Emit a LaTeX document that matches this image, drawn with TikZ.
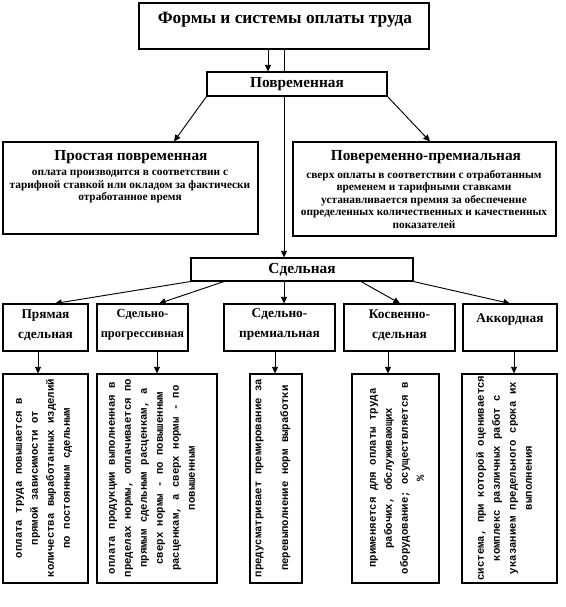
\documentclass[tikz,border=0pt]{standalone}
\usepackage{fontspec}
\setmainfont{Liberation Serif}
\newfontfamily\monofont{Liberation Mono}
\usetikzlibrary{arrows.meta,fit}
\begin{document}
\begin{tikzpicture}[x=0.75pt,y=-0.75pt,
  box/.style={draw, line width=0.8pt, inner sep=0pt, fill=white},
  arr/.style={-{Triangle[length=5pt,width=4.5pt]}, line width=0.7pt},
  ln/.style={line width=0.7pt},
  ttl/.style={font=\fontsize{13}{15}\selectfont\bfseries, inner sep=0pt},
  hd/.style={font=\fontsize{11.5}{14}\selectfont\bfseries, align=center, inner sep=0pt},
  sub/.style={font=\fontsize{10}{15}\selectfont\bfseries, align=center, inner sep=0pt},
  body/.style={font=\fontsize{8.5}{9.4}\selectfont\bfseries, align=center, inner sep=0pt},
  vt/.style={rotate=90, align=center, inner sep=0pt, font=\monofont\fontsize{8}{12}\selectfont\bfseries}
]
\useasboundingbox (0,0) rectangle (566,607);
% helper coordinates
\coordinate (v1) at (268,0);
\coordinate (v2) at (284,0);
\coordinate (t1) at (174,0);
\coordinate (t2) at (430,0);
\coordinate (p2) at (224,0);
\coordinate (p4) at (361,0);
\coordinate (s1) at (55,0);
\coordinate (s2) at (159,0);
\coordinate (s4) at (400,0);
\coordinate (s5) at (510,0);
\coordinate (a1) at (38,0);
\coordinate (a2) at (157,0);
\coordinate (a3) at (275,0);
\coordinate (a4) at (388,0);
\coordinate (a5) at (514,0);
% boxes
\node[box, fit={(139,3)(429,49)}] (top) {};
\node[ttl] (toptxt) at (285,20) {Формы и системы оплаты труда};
\node[box, fit={(207,72)(387,96)}] (time) {};
\node[hd] (timetxt) at (297,84) {Повременная};
\node[box, fit={(3,142)(258,234)}] (simple) {};
\node[hd] (simplehd) at (131,157) {Простая повременная};
\node[body, anchor=north] (simplebody) at (130,170) {оплата производится в соответствии с\\ тарифной ставкой или окладом за фактически\\ отработанное время};
\node[box, fit={(293,142)(556,236)}] (prem) {};
\node[hd] (premhd) at (426,157) {Повеременно-премиальная};
\node[body, anchor=north] (prembody) at (424,170) {сверх оплаты в соответствии с отработанным\\ временем и тарифными ставками\\ устанавливается премия за обеспечение\\ определенных количественных и качественных\\ показателей};
\node[box, fit={(191,258)(413,281)}] (piece) {};
\node[hd] (piecetxt) at (302,270) {Сдельная};
% level 3
\node[box, fit={(3,304)(88,351)}] (b1) {};
\node[box, fit={(97,304)(188,351)}] (b2) {};
\node[box, fit={(224,304)(335,351)}] (b3) {};
\node[box, fit={(344,304)(455,351)}] (b4) {};
\node[box, fit={(463,304)(557,351)}] (b5) {};
\node[sub] (b1t) at (45.5,325) {Прямая\\ сдельная};
\node[sub, font=\fontsize{9.3}{15}\selectfont\bfseries] (b2t) at (142.5,325) {Сдельно-\\ прогрессивная};
\node[sub] (b3t) at (279.5,325) {Сдельно-\\ премиальная};
\node[sub] (b4t) at (399.5,325) {Косвенно-\\ сдельная};
\node[sub] (b5t) at (510,320) {Аккордная};
% level 4
\node[box, fit={(3,374)(88,583)}] (c1) {};
\node[box, fit={(97,374)(217,583)}] (c2) {};
\node[box, fit={(250,374)(302,583)}] (c3) {};
\node[box, fit={(352,374)(439,583)}] (c4) {};
\node[box, fit={(462,374)(557,583)}] (c5) {};
\node[vt] (c1t) at (44,478) {оплата труда повышается в\\ прямой зависимости от\\ количества выработанных изделий\\ по постоянным сдельным};
\node[vt] (c2t) at (152,478) {оплата продукции выполненная в\\ пределах нормы, оплачивается по\\ прямым сдельным расценкам, а\\ сверх нормы - по повышенным\\ расценкам, а сверх нормы - по\\ повышенным};
\node[vt, font=\monofont\fontsize{8}{20}\selectfont\bfseries] (c3t) at (273,478) {предусматривает премирование за\\ перевыполнение норм выработки};
\node[vt] (c4t) at (397,478) {применяется для оплаты труда\\ рабочих, обслуживающих\\ оборудование; осуществляется в\\ \%};
\node[vt] (c5t) at (504,478) {система, при которой оценивается\\ комплекс различных работ с\\ указанием предельного срока их\\ выполнения};
% connectors
\draw[arr] (top.south -| v1) -- (time.north -| v1);
\draw[ln] (top.south -| v2) -- (time.north -| v2);
\draw[arr] (time.south -| v2) -- (piece.north -| v2);
\draw[arr] (time.south west) -- (simple.north -| t1);
\draw[arr] (time.south east) -- (prem.north -| t2);
\draw[arr] (piece.south west) -- (b1.north -| s1);
\draw[arr] (piece.south -| p2) -- (b2.north -| s2);
\draw[arr] (piece.south -| v2) -- (b3.north -| v2);
\draw[arr] (piece.south -| p4) -- (b4.north -| s4);
\draw[arr] (piece.south east) -- (b5.north -| s5);
\draw[arr] (b1.south -| a1) -- (c1.north -| a1);
\draw[arr] (b2.south -| a2) -- (c2.north -| a2);
\draw[arr] (b3.south -| a3) -- (c3.north -| a3);
\draw[arr] (b4.south -| a4) -- (c4.north -| a4);
\draw[arr] (b5.south -| a5) -- (c5.north -| a5);
\end{tikzpicture}
\end{document}
